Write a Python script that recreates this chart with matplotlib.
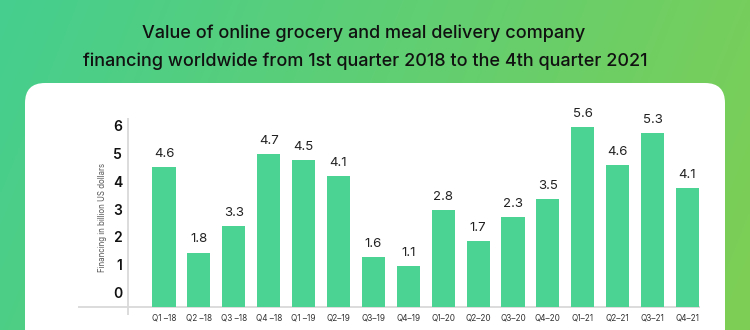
import numpy as np
import matplotlib
matplotlib.use("Agg")
import matplotlib.pyplot as plt
from matplotlib.patches import FancyBboxPatch

# ---- data ----
quarters = ["Q1 –18", "Q2 –18", "Q3 –18", "Q4 –18", "Q1 –19", "Q2–19", "Q3–19", "Q4–19",
            "Q1–20", "Q2–20", "Q3–20", "Q4–20", "Q1–21", "Q2–21", "Q3–21", "Q4–21"]
financing = [4.6, 1.8, 3.3, 4.7, 4.5, 4.1, 1.6, 1.1, 2.8, 1.7, 2.3, 3.5, 5.6, 4.6, 5.3, 4.1]
# bar tops as drawn in the picture (in y-axis units)
bar_tops = [4.56, 1.49, 2.45, 5.04, 4.82, 4.24, 1.33, 1.01, 3.02, 1.91, 2.77, 3.42,
            6.01, 4.64, 5.79, 3.81]
y_ticks = [0, 1, 2, 3, 4, 5, 6]
title_lines = ["Value of online grocery and meal delivery company",
               "financing worldwide from 1st quarter 2018 to the 4th quarter 2021"]
y_label = "Financing in billion US dollars"

FONT = ["Inter", "DejaVu Sans"]
plt.rcParams["font.family"] = FONT

W, H = 750, 330
fig = plt.figure(figsize=(W / 100, H / 100), dpi=100)

# ---- background gradient + card ----
bg = fig.add_axes([0, 0, 1, 1])
bg.set_xlim(0, W)
bg.set_ylim(H, 0)
bg.axis("off")
c1 = np.array([69, 207, 143]) / 255
c2 = np.array([126, 206, 84]) / 255
xx, yy = np.meshgrid(np.linspace(0, 1, 300), np.linspace(0, 1, 140))
t = np.clip(xx * 0.85 + yy * 0.15, 0, 1)[..., None]
grad = c1 * (1 - t) + c2 * t
bg.imshow(grad, extent=[0, W, H, 0], aspect="auto", zorder=0)
card = FancyBboxPatch((25, 83), 700, 320, boxstyle="round,pad=0,rounding_size=20",
                      facecolor="white", edgecolor="none", zorder=1)
bg.add_patch(card)

bg.text(364, 33, title_lines[0], ha="center", va="center", fontsize=13,
        fontweight="medium", color="#111111", zorder=2)
bg.text(365, 61, title_lines[1], ha="center", va="center", fontsize=13,
        fontweight="medium", color="#111111", zorder=2)

# ---- chart axes ----
px_left, px_right, px_top, px_bot = 78, 700, 118, 315
ax = fig.add_axes([px_left / W, (H - px_bot) / H, (px_right - px_left) / W, (px_bot - px_top) / H])
ax.patch.set_alpha(0)
for s in ax.spines.values():
    s.set_visible(False)
ax.set_xticks([])
ax.set_yticks([])

step = 34.9
x0 = 164
xlim = ((px_left - x0) / step, (px_right - x0) / step)
unit = 27.8
y0 = 294
ylim = ((y0 - px_bot) / unit, (y0 - px_top) / unit)
ax.set_xlim(*xlim)
ax.set_ylim(*ylim)

base = (y0 - 306.5) / unit
xs = np.arange(len(quarters))
heights = [b - base for b in bar_tops]
ax.bar(xs, heights, bottom=base, width=0.66, color="#4AD393", zorder=3)

ax.axhline(base, color="#d9d9d9", lw=1.3, zorder=2)
yaxis_x = (127.7 - x0) / step
ax.axvline(yaxis_x, color="#d9d9d9", lw=1.3, zorder=2)

for x, top, v in zip(xs, bar_tops, financing):
    ax.annotate(f"{v}", (x, top), xytext=(0, 9.5), textcoords="offset points",
                ha="center", va="center", fontsize=9.5, color="#222222", zorder=4)

for x, q in zip(xs, quarters):
    ax.annotate(q, (x, base), xytext=(0, -8), textcoords="offset points",
                ha="center", va="center", fontsize=5.9, color="#333333",
                annotation_clip=False)

label_x = (122 - x0) / step
for yt in y_ticks:
    ax.text(label_x, yt, str(yt), ha="right", va="center", fontsize=10,
            fontweight="semibold", color="#111111")

ax.text((102.7 - x0) / step, (y0 - 217) / unit, y_label, rotation=90, ha="center",
        va="center", fontsize=5.7, color="#555555")

fig.savefig("out.png", dpi=100)
